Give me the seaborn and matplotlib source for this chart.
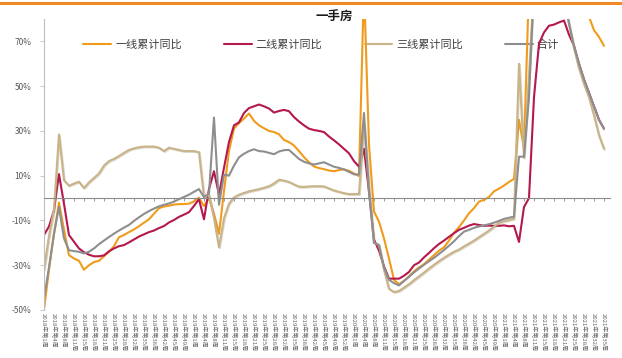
import matplotlib
matplotlib.use("Agg")
import matplotlib.pyplot as plt
import matplotlib.patheffects as pe
import numpy as np
import pandas as pd
import seaborn as sns
from matplotlib.lines import Line2D

# ---- data -------------------------------------------------------------
series_names = ["一线累计同比", "二线累计同比", "三线累计同比", "合计"]
series_colors = ["#F09B1C", "#B4184C", "#C9B48A", "#8E8E8E"]

tier1 = [
    -50, -32, -16, -2, -14, -25.5, -27, -28, -32, -30,
    -28.6, -28, -26, -24, -21.5, -17.5, -16.5, -15.2, -14, -12.6,
    -11, -9.5, -7, -4.5, -3.8, -3.4, -2.9, -2.7, -2.7, -2.5,
    -1.5, 0.2, -3.6, 0, -7, -16, 3, 21, 31, 33.5,
    35.5, 37.8, 34.5, 32.5, 31.2, 30, 29.5, 28.5, 26, 25,
    23.5, 21, 18.3, 16, 14.1, 13.4, 12.9, 12.3, 12, 12.5,
    12.8, 12.2, 11, 9.8, 95, 24, -6, -10.5, -18, -27,
    -36.5, -38.5, -37, -35, -32.7, -31, -29.6, -27.5, -25.5, -23.5,
    -22, -19, -15.5, -13, -10, -6.8, -4.5, -1.6, -0.8, 0.5,
    3, 4.2, 5.6, 7.2, 8.6, 35, 22, 95, 95, 95,
    95, 95, 95, 95, 95, 95, 95, 95, 95, 81,
    75, 72, 68,
]
tier2 = [
    -16.5, -12.7, -5.5, 10.7, -2.5, -16.5, -19.5, -22.5, -24.2, -25.3,
    -26, -26, -25.6, -23.8, -22.5, -21.5, -21, -19.8, -18.5, -17.2,
    -16.2, -15.2, -14.5, -13.4, -12.5, -10.9, -9.8, -8.4, -7.4, -6.3,
    -3.5, -0.5, -9.5, 4, 12, 1.5, 13.5, 25, 32.5, 33.8,
    38, 40.2, 41, 41.8, 41, 40, 38.2, 38.9, 39.4, 38.8,
    36.2, 34.2, 32.5, 31, 30.4, 30, 29.5, 27.5, 25.8, 24,
    22, 20, 16.5, 14, 22, 3, -18.5, -23.5, -30.5, -36,
    -36, -36, -34.7, -33, -30, -28.8, -26.5, -24.5, -22.4, -20.5,
    -19, -17.3, -15.7, -14.2, -13.3, -12.3, -11.6, -12, -12.4, -12.3,
    -12.4, -12.4, -12.2, -12.6, -12.4, -19.6, -4, 0, 45, 69,
    74, 77, 77.5, 78.5, 79.3, 73, 68, 60, 53, 47,
    41, 35, 31,
]
tier3 = [
    -32, -17, -5, 28.4, 8, 5.5, 6.5, 7.3, 4.5, 7,
    9, 11, 14.5, 16.5, 17.5, 18.8, 20.2, 21.5, 22.2, 22.7,
    23, 23, 23, 22.5, 21, 22.5, 22, 21.5, 21, 21,
    21, 20.5, 0.5, 1.5, -9, -22, -9, -2.5, 0.3, 1.5,
    2.3, 3, 3.5, 4, 4.6, 5.3, 6.5, 8.2, 7.8, 7.2,
    6.1, 5.1, 5, 5.2, 5.3, 5.3, 5.2, 4.3, 3.4, 2.8,
    2.2, 1.8, 1.8, 1.8, 33, 5, -20, -21, -32, -40.5,
    -42, -41.5, -40, -38.5, -36.7, -35, -33.3, -31.5, -29.8, -28.2,
    -26.7, -25.3, -24, -23, -21.6, -20.3, -19, -17.5, -16, -14.5,
    -12.8, -11, -10.3, -9.8, -9.2, 60, 18, 55, 95, 95,
    95, 95, 95, 95, 90, 78, 67, 58, 51, 45,
    37, 28, 22,
]
total = [
    -45, -31, -16, -4, -18, -23.3, -23.7, -24, -24.7, -24,
    -22.5, -20.6, -19, -17.4, -15.9, -14.5, -13.2, -12, -10.2, -8.6,
    -7.1, -5.8, -4.7, -3.7, -3, -2.4, -1.6, -0.5, 0.5, 1.5,
    2.8, 4, 0.5, 2, 36, -3, 10.5, 10, 14.5, 18.2,
    19.8, 21, 21.8, 21, 20.8, 20.2, 19.6, 20.8, 21.4, 21.5,
    19.5, 17.5, 16.2, 15.5, 15, 15.5, 16, 15, 14, 13.5,
    12.8, 11.7, 10.6, 10.5, 38, 3, -20, -21, -31, -36.5,
    -38, -39, -37, -35.2, -33.2, -31.5, -29.8, -28.2, -26.7, -25,
    -23.2, -21.3, -19.3, -17, -15, -14.2, -13.3, -12.7, -12.2, -11.7,
    -11, -10.2, -9.3, -8.8, -8.3, 18.5, 18.5, 45, 95, 95,
    95, 95, 95, 95, 90, 78, 68, 60, 53, 47,
    41, 35, 31,
]

# week labels shown under the axis: (year, number of labels in that year)
label_years = [(2018, 15), (2019, 16), (2020, 15), (2021, 11)]
week_labels = [f"{y}年第{1 + round(j * 3.4)}周" for y, n in label_years for j in range(n)]

y_ticks = [-50, -30, -10, 10, 30, 50, 70]

# ---- long-form table ----------------------------------------------------
n_pts = len(tier1)
df = pd.DataFrame({
    "idx": np.tile(np.arange(n_pts), 4),
    "value": np.concatenate([tier1, tier2, tier3, total]),
    "series": np.repeat(series_names, n_pts),
})

# ---- figure -------------------------------------------------------------
sns.set_theme(style="white")
plt.rcParams["font.family"] = ["Noto Sans CJK SC", "DejaVu Sans"]
plt.rcParams["axes.unicode_minus"] = False

fig = plt.figure(figsize=(6.22, 3.58), dpi=100)
ax = fig.add_axes([0.0707, 0.1341, 0.91, 0.8128])

sns.lineplot(
    data=df, x="idx", y="value", hue="series", hue_order=series_names,
    palette=dict(zip(series_names, series_colors)), linewidth=1.5,
    sort=False, legend=False, ax=ax,
)
# soft shadow under the third-tier line
ax.lines[2].set_path_effects([
    pe.SimpleLineShadow(offset=(0.6, -0.6), shadow_color="#9C8C6A", alpha=0.35),
    pe.Normal(),
])

ax.set_xlim(0, 113.2)
ax.set_ylim(-50, 80)
ax.set_xlabel("")
ax.set_ylabel("")

# y axis
ax.set_yticks(y_ticks)
ax.set_yticklabels([f"{v}%" for v in y_ticks], fontsize=6, color="#595959")
ax.tick_params(axis="y", length=3, width=0.6, color="#BFBFBF", direction="out", pad=6, left=True)
for s in ["top", "right"]:
    ax.spines[s].set_visible(False)
ax.spines["left"].set_color("#BFBFBF")
ax.spines["left"].set_linewidth(0.8)

# category axis crossing at zero
tick_pos = np.arange(0, n_pts, 2)
ax.spines["bottom"].set_position(("data", 0))
ax.spines["bottom"].set_color("#8C8C8C")
ax.spines["bottom"].set_linewidth(0.8)
ax.set_xticks(tick_pos)
ax.tick_params(axis="x", length=2.5, width=0.6, color="#8C8C8C", direction="out",
               bottom=True, labelbottom=False)

sec = ax.secondary_xaxis("bottom")
sec.set_xticks(tick_pos)
sec.set_xticklabels(week_labels, rotation=-90, fontsize=4.3, color="#666666")
sec.tick_params(axis="x", length=0, pad=2)
sec.spines["bottom"].set_visible(False)

# legend
handles = [Line2D([0], [0], color=c, lw=1.5) for c in series_colors]
leg = ax.legend(handles, series_names, loc="center", bbox_to_anchor=(0.49, 0.911),
                ncol=4, frameon=False, fontsize=8, handlelength=2.5,
                handletextpad=0.35, columnspacing=3.8, labelcolor="#404040")
leg.set_zorder(1)

# title and header rule
fig.text(334 / 622, 1 - 17 / 358, "一手房", ha="center", va="center",
         fontsize=9, fontweight="bold", color="#1A1A1A")
fig.add_artist(Line2D([0, 1], [0.993, 0.993], transform=fig.transFigure,
                      color="#F08A24", lw=2.2))

fig.savefig("out.png", dpi=100)
